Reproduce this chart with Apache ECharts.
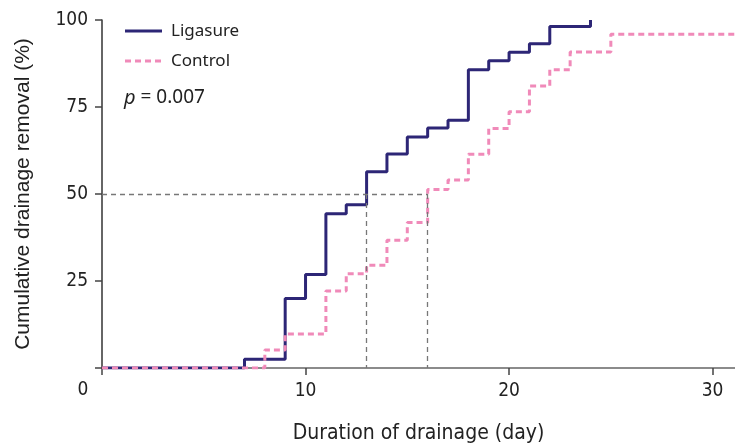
<!DOCTYPE html>
<html><head><meta charset="utf-8">
<script src="https://cdn.jsdelivr.net/npm/echarts@6/dist/echarts.min.js"></script>
<style>html,body{margin:0;padding:0;background:#fff}#c{width:735px;height:443px}</style>
</head><body><div id="c"></div>
<script>
// Data
const ligasure = [[0,0],[7,2.5],[9,20],[10,26.9],[11,44.3],[12,46.9],[13,56.4],[14,61.5],[15,66.4],[16,69],[17,71.2],[18,85.7],[19,88.3],[20,90.7],[21,93.2],[22,98.1],[24,100]];
const control = [[0,0],[8,5.2],[9,9.8],[11,22.1],[12,27.1],[13,29.5],[14,36.7],[15,41.8],[16,51.3],[17,54],[18,61.4],[19,68.8],[20,73.6],[21,81],[22,85.7],[23,90.8],[25,95.9],[31.1,95.9]];
const medianLigasure = 13;
const medianControl = 16;
const medianLevel = 50;
const xTickLabels = [10,20,30];
const xTicks = [0,10,20,30];
const yTickLabels = [25,50,75,100];
const seriesNames = ['Ligasure','Control'];
const pText = '0.007';

const NARROW = "'DejaVu Sans Condensed','Liberation Sans Narrow','Liberation Sans',sans-serif";
const SANS = "'Liberation Sans',Arial,sans-serif";
const LEG = "'Noto Sans',sans-serif";
const navy = '#2d2676', pink = '#f08ab9', txt = '#222';

const chart = echarts.init(document.getElementById('c'), null, {renderer:'canvas'});
chart.setOption({
  animation:false,
  backgroundColor:'#fff',
  grid:{left:102,right:0,top:20,bottom:75,containLabel:false,outerBoundsMode:'none'},
  xAxis:{
    type:'value',min:0,max:31.1,interval:10,
    name:'Duration of drainage (day)',nameLocation:'middle',nameGap:55,
    nameTextStyle:{fontFamily:NARROW,fontSize:21,color:txt},
    axisLine:{show:true,lineStyle:{color:'#666',width:1.5}},
    axisTick:{show:true,length:7,customValues:xTicks,lineStyle:{color:'#444',width:1.5}},
    axisLabel:{customValues:xTickLabels,margin:14,fontFamily:NARROW,fontSize:19,color:txt},
    splitLine:{show:false}
  },
  yAxis:{
    type:'value',min:0,max:100,interval:25,
    name:'Cumulative drainage removal (%)',nameLocation:'middle',nameGap:68,
    nameTextStyle:{fontFamily:SANS,fontSize:21,color:txt},
    axisLine:{show:true,lineStyle:{color:'#333',width:1.5}},
    axisTick:{show:true,length:7,lineStyle:{color:'#444',width:1.5}},
    axisLabel:{margin:14,fontFamily:NARROW,fontSize:19,color:txt,
      formatter:v=>yTickLabels.includes(v)?String(v):''},
    splitLine:{show:false}
  },
  graphic:[
    {type:'line',shape:{x1:125,y1:31,x2:162,y2:31},style:{stroke:navy,lineWidth:3}},
    {type:'line',shape:{x1:125,y1:61,x2:162,y2:61},style:{stroke:pink,lineWidth:3,lineDash:[6,4]}},
    {type:'text',x:171,y:31,style:{text:seriesNames[0],fontFamily:LEG,fontSize:17,fill:txt,verticalAlign:'middle'}},
    {type:'text',x:171,y:61,style:{text:seriesNames[1],fontFamily:LEG,fontSize:17,fill:txt,verticalAlign:'middle'}},
    {type:'text',x:124,y:98,style:{
      text:'{i|p} = '+pText,verticalAlign:'middle',
      rich:{i:{fontStyle:'italic',fontFamily:LEG,fontSize:20,fill:txt}},
      fontFamily:LEG,fontSize:19,fill:txt}},
    {type:'text',x:83,y:390,style:{text:'0',fontFamily:NARROW,fontSize:19,fill:txt,align:'center',verticalAlign:'middle'}}
  ],
  series:[
    {name:seriesNames[0],type:'line',step:'end',data:ligasure,symbol:'none',
      lineStyle:{color:navy,width:3},itemStyle:{color:navy},z:3,
      markLine:{silent:true,symbol:'none',label:{show:false},
        lineStyle:{color:'#777',type:[5,4],width:1.3},
        data:[
          [{coord:[0,medianLevel]},{coord:[medianControl,medianLevel]}],
          [{coord:[medianLigasure,medianLevel]},{coord:[medianLigasure,0]}],
          [{coord:[medianControl,medianLevel]},{coord:[medianControl,0]}]
        ]}},
    {name:seriesNames[1],type:'line',step:'end',data:control,symbol:'none',
      lineStyle:{color:pink,width:3,type:[6,4]},itemStyle:{color:pink},z:4}
  ]
});
</script></body></html>
